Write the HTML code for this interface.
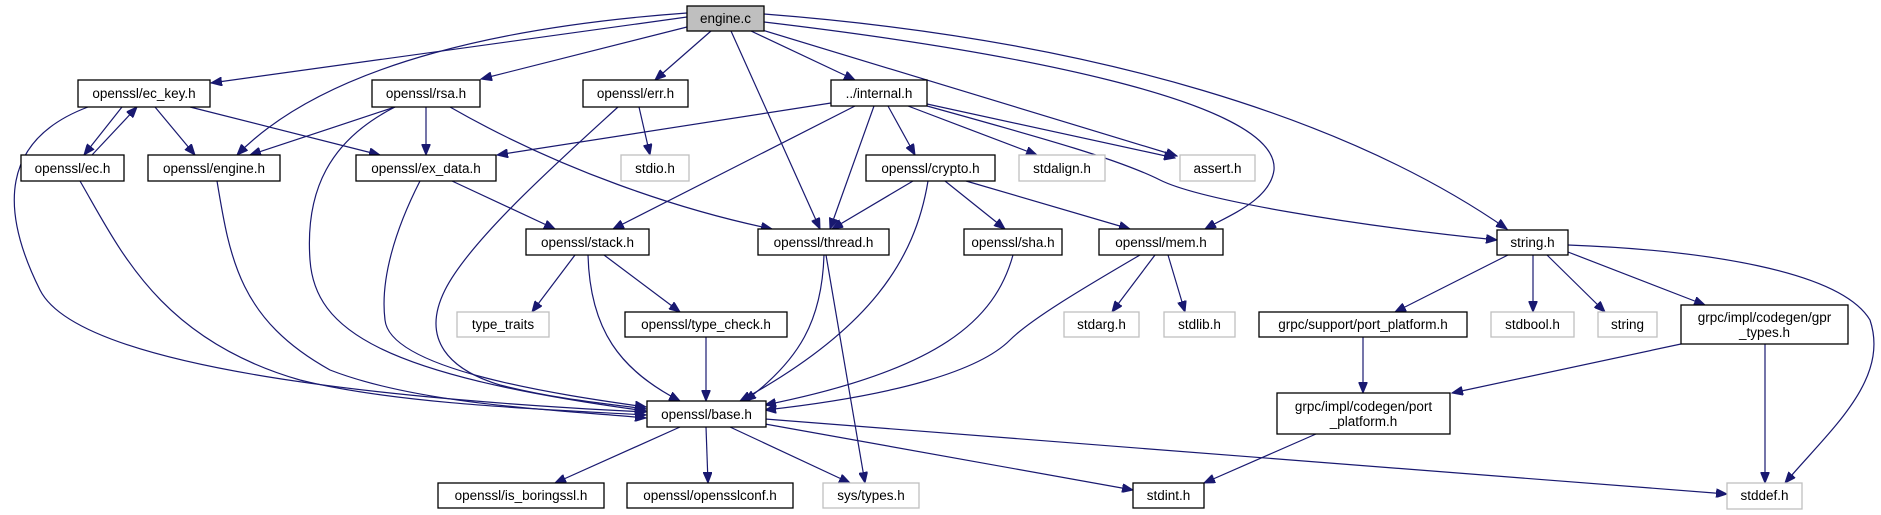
<!DOCTYPE html>
<html><head><meta charset="utf-8"><style>
html,body{margin:0;padding:0;background:#fff;}
svg{display:block;}
text{font-family:"Liberation Sans",sans-serif;font-size:13.5px;fill:#000;}
.n{fill:#fff;stroke:#000;stroke-width:1.3;}
.g{fill:#fff;stroke:#bfbfbf;stroke-width:1.3;}
.e{fill:none;stroke:#191970;stroke-width:1.2;}
</style></head><body>
<svg width="1881" height="515" viewBox="0 0 1881 515" xmlns="http://www.w3.org/2000/svg">
<defs><marker id="a" markerWidth="12" markerHeight="9" refX="11" refY="4.5" orient="auto" markerUnits="userSpaceOnUse"><path d="M0,0 L11,4.5 L0,9 z" fill="#191970" stroke="#191970"/></marker></defs>
<g marker-end="url(#a)">
<path class="e" d="M687,17 L211,83"/>
<path class="e" d="M687,13 C520,25 330,60 237,155"/>
<path class="e" d="M687,27 L481,79"/>
<path class="e" d="M711,31 L655,80"/>
<path class="e" d="M731,31 L820,229"/>
<path class="e" d="M751,31 L855,80"/>
<path class="e" d="M762,30 L1177,156"/>
<path class="e" d="M764,22 C1000,50 1280,100 1274,170 C1270,200 1230,215 1205,229"/>
<path class="e" d="M764,14 C1100,40 1350,120 1507,229"/>
<path class="e" d="M122,107 L84,155"/>
<path class="e" d="M92,155 L137,107"/>
<path class="e" d="M155,107 L195,155"/>
<path class="e" d="M190,107 L380,155"/>
<path class="e" d="M88,107 C0,140 0,210 40,290 C80,370 400,400 646,412"/>
<path class="e" d="M80,181 C120,250 160,340 300,380 C400,405 560,410 646,415"/>
<path class="e" d="M217,181 C230,260 240,320 330,370 C420,405 560,410 646,418"/>
<path class="e" d="M395,107 L250,155"/>
<path class="e" d="M426,107 L426,155"/>
<path class="e" d="M395,107 C330,140 305,190 310,260 C315,330 380,375 646,411"/>
<path class="e" d="M450,107 C560,170 680,210 772,229"/>
<path class="e" d="M618,107 C560,160 470,240 445,290 C420,340 450,370 500,385 C560,400 610,404 646,409"/>
<path class="e" d="M639,107 L650,155"/>
<path class="e" d="M452,181 L555,229"/>
<path class="e" d="M420,181 C395,230 380,280 385,320 C390,370 560,395 646,407"/>
<path class="e" d="M831,103 L497,155"/>
<path class="e" d="M855,106 L613,229"/>
<path class="e" d="M874,106 L830,229"/>
<path class="e" d="M888,106 L915,155"/>
<path class="e" d="M908,106 L1037,155"/>
<path class="e" d="M927,104 L1175,158"/>
<path class="e" d="M927,106 C1050,140 1120,160 1160,180 C1200,200 1350,225 1497,240"/>
<path class="e" d="M913,181 L832,229"/>
<path class="e" d="M928,181 C915,260 870,330 740,401"/>
<path class="e" d="M945,181 L1005,229"/>
<path class="e" d="M966,181 L1130,229"/>
<path class="e" d="M575,255 L532,312"/>
<path class="e" d="M588,255 C590,330 620,370 680,401"/>
<path class="e" d="M604,255 L680,312"/>
<path class="e" d="M706,337 L706,401"/>
<path class="e" d="M824,255 C822,320 800,360 745,401"/>
<path class="e" d="M826,255 L865,483"/>
<path class="e" d="M1013,255 C995,320 940,370 765,405"/>
<path class="e" d="M1140,255 C1080,290 1030,320 1010,340 C980,370 900,395 765,410"/>
<path class="e" d="M1155,255 L1112,312"/>
<path class="e" d="M1168,255 L1185,312"/>
<path class="e" d="M680,427 L555,483"/>
<path class="e" d="M706,427 L708,483"/>
<path class="e" d="M730,427 L850,483"/>
<path class="e" d="M765,424 L1133,490"/>
<path class="e" d="M765,419 L1727,494"/>
<path class="e" d="M1508,255 L1395,312"/>
<path class="e" d="M1533,255 L1533,312"/>
<path class="e" d="M1547,255 L1605,312"/>
<path class="e" d="M1568,252 L1705,305"/>
<path class="e" d="M1568,245 C1700,250 1840,270 1870,320 C1890,380 1830,430 1785,483"/>
<path class="e" d="M1363,337 L1363,393"/>
<path class="e" d="M1681,344 L1452,393"/>
<path class="e" d="M1765,344 L1765,483"/>
<path class="e" d="M1316,434 L1204,483"/>
</g>
<g>
<rect x="687" y="6" width="77" height="25" fill="#bfbfbf" stroke="#000" stroke-width="1.3"/><text x="725.5" y="23" text-anchor="middle">engine.c</text>
<rect class="n" x="78" y="80" width="132" height="27"/><text x="144" y="98" text-anchor="middle">openssl/ec_key.h</text>
<rect class="n" x="372" y="80" width="108" height="27"/><text x="426" y="98" text-anchor="middle">openssl/rsa.h</text>
<rect class="n" x="583" y="80" width="105" height="27"/><text x="635.5" y="98" text-anchor="middle">openssl/err.h</text>
<rect class="n" x="831" y="80" width="96" height="26"/><text x="879" y="98" text-anchor="middle">../internal.h</text>
<rect class="n" x="21" y="155" width="103" height="26"/><text x="72.5" y="173" text-anchor="middle">openssl/ec.h</text>
<rect class="n" x="148" y="155" width="132" height="26"/><text x="214" y="173" text-anchor="middle">openssl/engine.h</text>
<rect class="n" x="356" y="155" width="140" height="26"/><text x="426" y="173" text-anchor="middle">openssl/ex_data.h</text>
<rect class="g" x="621" y="155" width="68" height="26"/><text x="655" y="173" text-anchor="middle">stdio.h</text>
<rect class="n" x="866" y="155" width="129" height="26"/><text x="930.5" y="173" text-anchor="middle">openssl/crypto.h</text>
<rect class="g" x="1019" y="155" width="86" height="26"/><text x="1062" y="173" text-anchor="middle">stdalign.h</text>
<rect class="g" x="1180" y="155" width="75" height="26"/><text x="1217.5" y="173" text-anchor="middle">assert.h</text>
<rect class="n" x="526" y="229" width="123" height="26"/><text x="587.5" y="247" text-anchor="middle">openssl/stack.h</text>
<rect class="n" x="758" y="229" width="131" height="26"/><text x="823.5" y="247" text-anchor="middle">openssl/thread.h</text>
<rect class="n" x="964" y="229" width="98" height="26"/><text x="1013" y="247" text-anchor="middle">openssl/sha.h</text>
<rect class="n" x="1099" y="229" width="124" height="26"/><text x="1161" y="247" text-anchor="middle">openssl/mem.h</text>
<rect class="n" x="1497" y="230" width="71" height="25"/><text x="1532.5" y="247" text-anchor="middle">string.h</text>
<rect class="g" x="457" y="312" width="92" height="25"/><text x="503" y="329" text-anchor="middle">type_traits</text>
<rect class="n" x="625" y="312" width="162" height="25"/><text x="706" y="329" text-anchor="middle">openssl/type_check.h</text>
<rect class="g" x="1064" y="312" width="75" height="25"/><text x="1101.5" y="329" text-anchor="middle">stdarg.h</text>
<rect class="g" x="1164" y="312" width="71" height="25"/><text x="1199.5" y="329" text-anchor="middle">stdlib.h</text>
<rect class="n" x="1259" y="312" width="208" height="25"/><text x="1363" y="329" text-anchor="middle">grpc/support/port_platform.h</text>
<rect class="g" x="1491" y="312" width="83" height="25"/><text x="1532.5" y="329" text-anchor="middle">stdbool.h</text>
<rect class="g" x="1598" y="312" width="59" height="25"/><text x="1627.5" y="329" text-anchor="middle">string</text>
<rect class="n" x="1681" y="305" width="167" height="39"/><text x="1764.5" y="322" text-anchor="middle">grpc/impl/codegen/gpr</text><text x="1764.5" y="337" text-anchor="middle">_types.h</text>
<rect class="n" x="647" y="401" width="119" height="26"/><text x="706.5" y="419" text-anchor="middle">openssl/base.h</text>
<rect class="n" x="1277" y="393" width="173" height="41"/><text x="1363.5" y="411" text-anchor="middle">grpc/impl/codegen/port</text><text x="1363.5" y="426" text-anchor="middle">_platform.h</text>
<rect class="n" x="438" y="483" width="166" height="25"/><text x="521" y="500" text-anchor="middle">openssl/is_boringssl.h</text>
<rect class="n" x="627" y="483" width="166" height="25"/><text x="710" y="500" text-anchor="middle">openssl/opensslconf.h</text>
<rect class="g" x="823" y="483" width="96" height="25"/><text x="871" y="500" text-anchor="middle">sys/types.h</text>
<rect class="n" x="1133" y="483" width="71" height="25"/><text x="1168.5" y="500" text-anchor="middle">stdint.h</text>
<rect class="g" x="1727" y="483" width="75" height="26"/><text x="1764.5" y="500" text-anchor="middle">stddef.h</text>
</g>
</svg>
</body></html>
